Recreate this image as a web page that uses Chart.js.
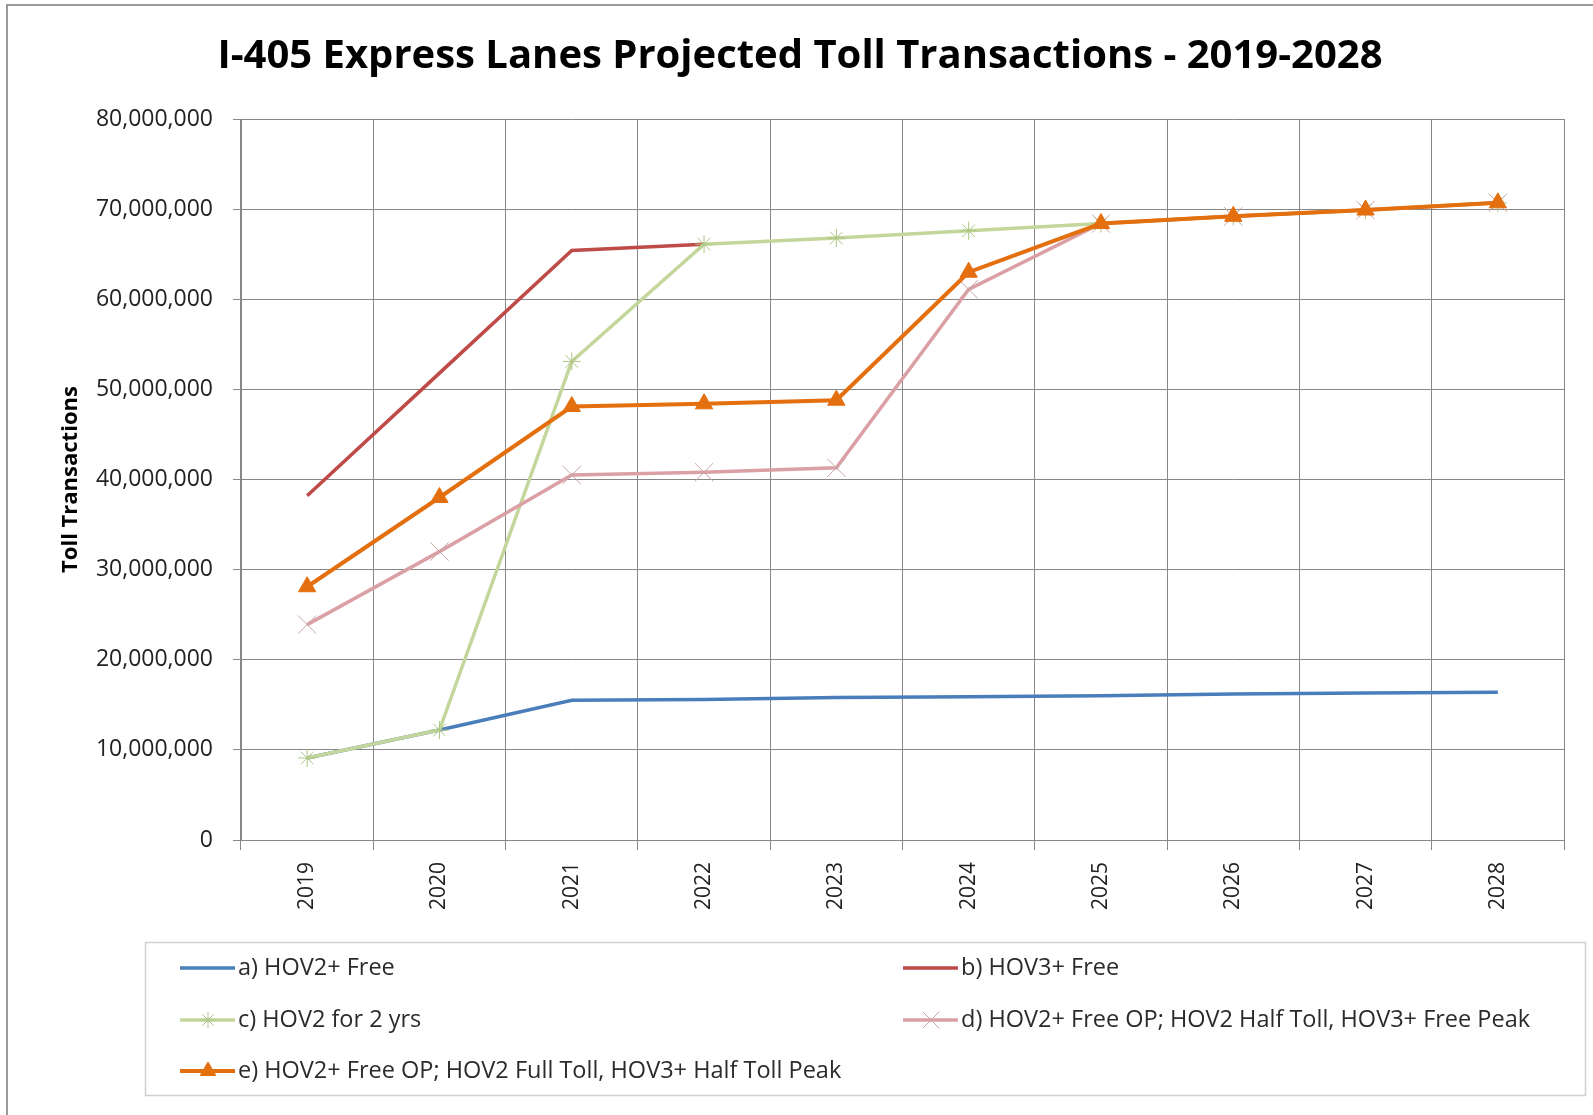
<!DOCTYPE html>
<html>
<head>
<meta charset="utf-8">
<script src="https://cdn.jsdelivr.net/npm/chart.js@4.4.0/dist/chart.umd.min.js"></script>
<style>
html, body { margin: 0; padding: 0; background: #fff; }
#wrap { position: relative; width: 1593px; height: 1115px; overflow: hidden; }
#frame { position: absolute; left: 6px; top: 4px; width: 1700px; height: 1300px; border: 2px solid #9a9a9a; box-sizing: border-box; }
canvas { position: absolute; left: 0; top: 0; }
</style>
</head>
<body>
<div id="wrap">
  <div id="frame"></div>
  <canvas id="tollChart" width="1593" height="1115"></canvas>
</div>
<script>
// projected toll transactions per scenario, by year
const years = ['2019', '2020', '2021', '2022', '2023', '2024', '2025', '2026', '2027', '2028'];
const hov2Free = [9100000, 12200000, 15500000, 15600000, 15800000, 15900000, 16000000, 16200000, 16300000, 16400000];
const hov3Free = [38200000, 51800000, 65400000, 66100000, null, null, null, null, null, null];
const hov2TwoYears = [9100000, 12200000, 53100000, 66100000, 66800000, 67600000, 68400000, 69200000, 69900000, 70700000];
const halfTollPeak = [23900000, 32000000, 40500000, 40800000, 41300000, 61100000, 68400000, 69200000, 69900000, 70700000];
const fullTollPeak = [28100000, 38000000, 48100000, 48400000, 48800000, 63000000, 68400000, 69200000, 69900000, 70700000];

const yTicks = { min: 0, max: 80000000, step: 10000000 };

const gridColor = '#878787';

// legend box drawn under the axis, two columns
const legendBox = {
    id: 'legendBox',
    afterDraw(chart) {
        const ctx = chart.ctx;
        ctx.save();
        ctx.strokeStyle = '#cfcfcf';
        ctx.lineWidth = 1.5;
        ctx.strokeRect(145.5, 942.5, 1440, 153);

        const cols = [180, 903];
        const rows = [968, 1020, 1071];
        chart.data.datasets.forEach((ds, i) => {
            const x = cols[i % 2];
            const y = rows[Math.floor(i / 2)];
            ctx.strokeStyle = ds.borderColor;
            ctx.lineWidth = ds.borderWidth;
            ctx.beginPath();
            ctx.moveTo(x, y);
            ctx.lineTo(x + 55, y);
            ctx.stroke();
            if (ds.pointRadius > 0 && Chart.helpers && Chart.helpers.drawPoint) {
                ctx.strokeStyle = ds.pointBorderColor;
                ctx.fillStyle = ds.pointBackgroundColor;
                ctx.lineWidth = ds.pointBorderWidth;
                Chart.helpers.drawPoint(ctx, {
                    pointStyle: ds.pointStyle,
                    radius: ds.pointRadius * 0.9,
                    rotation: 0,
                    borderWidth: ds.pointBorderWidth
                }, x + 28, y);
            }
            ctx.fillStyle = '#2b2b2b';
            ctx.font = '23.5px "Open Sans"';
            ctx.textBaseline = 'middle';
            ctx.textAlign = 'left';
            ctx.fillText(ds.label, x + 58, y);
        });
        ctx.restore();
    }
};

const ctx = document.getElementById('tollChart').getContext('2d');
const chart = new Chart(ctx, {
    type: 'line',
    data: {
        labels: years,
        datasets: [{
            label: 'a) HOV2+ Free',
            data: hov2Free,
            borderColor: '#4a7ebb',
            backgroundColor: '#4a7ebb',
            borderWidth: 3.5,
            pointRadius: 0,
            order: 5
        }, {
            label: 'b) HOV3+ Free',
            data: hov3Free,
            borderColor: '#be4b48',
            backgroundColor: '#be4b48',
            borderWidth: 3.5,
            pointRadius: 0,
            order: 4
        }, {
            label: 'c) HOV2 for 2 yrs',
            data: hov2TwoYears,
            borderColor: '#c3d69b',
            backgroundColor: '#c3d69b',
            borderWidth: 3.5,
            pointStyle: 'star',
            pointRadius: 9,
            pointBorderWidth: 1,
            pointBorderColor: '#adc685',
            pointBackgroundColor: '#adc685',
            order: 3
        }, {
            label: 'd) HOV2+ Free OP; HOV2 Half Toll, HOV3+ Free Peak',
            data: halfTollPeak,
            borderColor: '#dba0a5',
            backgroundColor: '#dba0a5',
            borderWidth: 3.5,
            pointStyle: 'crossRot',
            pointRadius: 13,
            pointBorderWidth: 1,
            pointBorderColor: '#c9a4a4',
            pointBackgroundColor: '#c9a4a4',
            order: 2
        }, {
            label: 'e) HOV2+ Free OP; HOV2 Full Toll, HOV3+ Half Toll Peak',
            data: fullTollPeak,
            borderColor: '#e46f0e',
            backgroundColor: '#e46f0e',
            borderWidth: 4,
            pointStyle: 'triangle',
            pointRadius: 10,
            pointBorderWidth: 1,
            pointBorderColor: '#e46f0e',
            pointBackgroundColor: '#e46f0e',
            order: 1
        }]
    },
    options: {
        responsive: false,
        devicePixelRatio: 1,
        animation: false,
        events: [],
        layout: { padding: { top: 0, left: 36, right: 29, bottom: 173 } },
        elements: { line: { tension: 0, fill: false } },
        plugins: {
            legend: { display: false },
            tooltip: { enabled: false },
            title: {
                display: true,
                text: 'I-405 Express Lanes Projected Toll Transactions - 2019-2028',
                color: '#000',
                font: { family: 'Open Sans', weight: 'bold', size: 40 },
                padding: { top: 33, bottom: 38 }
            }
        },
        scales: {
            x: {
                offset: true,
                grid: { offset: true, color: gridColor, lineWidth: 1, tickLength: 10 },
                border: { color: gridColor, width: 1 },
                ticks: {
                    minRotation: 90,
                    maxRotation: 90,
                    padding: 12,
                    color: '#222',
                    font: { family: 'Open Sans', size: 21 }
                },
                afterFit(scale) { scale.height = 102; }
            },
            y: {
                min: yTicks.min,
                max: yTicks.max,
                grid: { color: gridColor, lineWidth: 1, tickLength: 8 },
                border: { color: gridColor, width: 1 },
                ticks: {
                    stepSize: yTicks.step,
                    padding: 20,
                    color: '#222',
                    font: { family: 'Open Sans', size: 23 },
                    callback: v => v.toLocaleString('en-US')
                },
                title: {
                    display: true,
                    text: 'Toll Transactions',
                    color: '#000',
                    font: { family: 'Open Sans', weight: 'bold', size: 22 },
                    padding: { top: 22, bottom: 0 }
                },
                afterFit(scale) { scale.width = 205; }
            }
        }
    },
    plugins: [legendBox]
});
</script>
</body>
</html>
